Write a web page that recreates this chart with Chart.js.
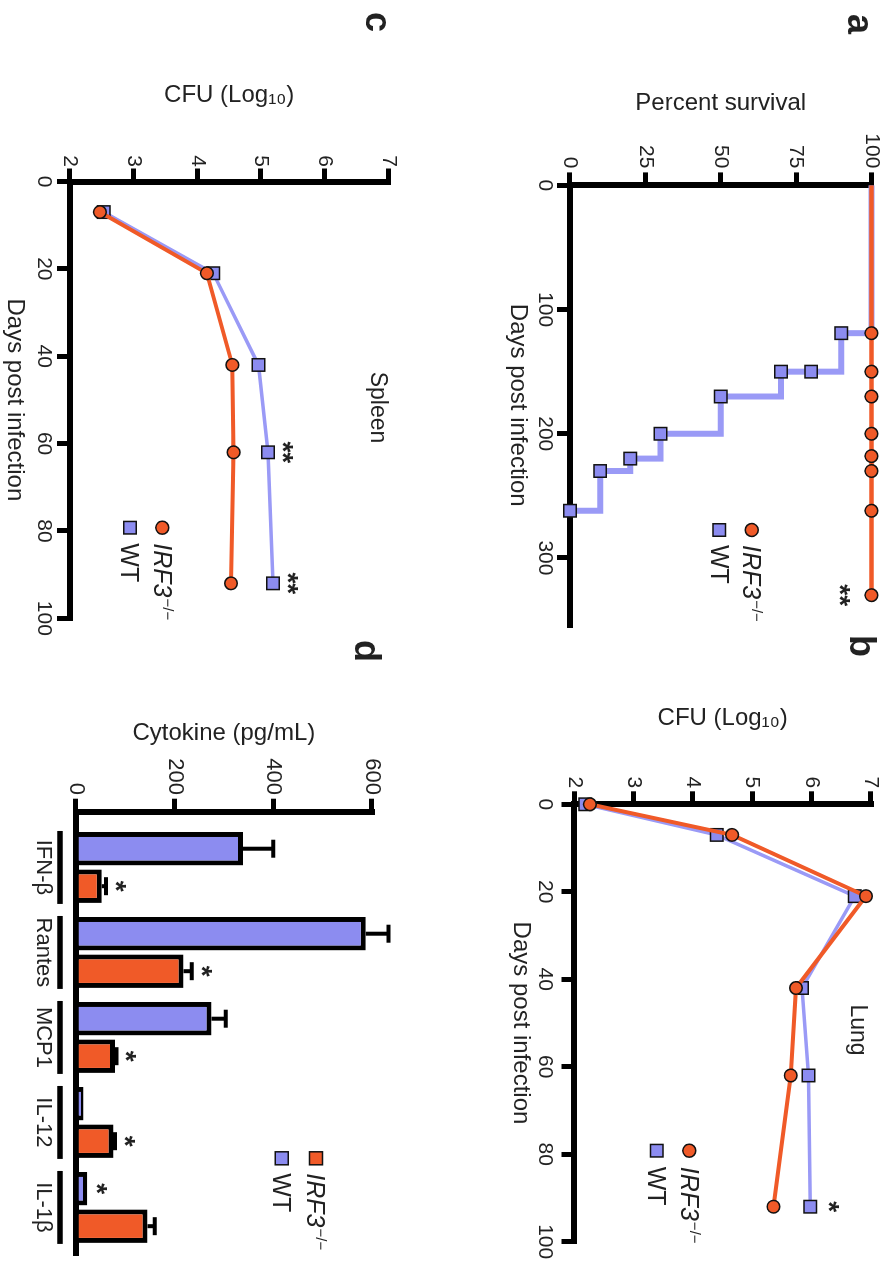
<!DOCTYPE html>
<html>
<head>
<meta charset="utf-8">
<title>IRF3 infection panels</title>
<script src="https://cdn.jsdelivr.net/npm/chart.js@4.4.1/dist/chart.umd.min.js"></script>
<style>
  html, body { margin: 0; padding: 0; background: #fff; }
  body { width: 888px; height: 1266px; overflow: hidden; position: relative; }
  /* the figure is laid out upright, then turned a quarter clockwise like the source */
  #figure { position: absolute; left: 0; top: 0; width: 1266px; height: 888px;
            transform-origin: 0 0; transform: translate(888px, 0) rotate(90deg); }
  #figure canvas { position: absolute; }
</style>
</head>
<body>
<div id="figure">
  <canvas id="survival" width="660" height="444" style="left:0;top:0"></canvas>
  <canvas id="lung" width="633" height="444" style="left:633px;top:0"></canvas>
  <canvas id="spleen" width="660" height="444" style="left:0;top:444px"></canvas>
  <canvas id="cytokine" width="633" height="444" style="left:633px;top:444px"></canvas>
</div>
<script>
const FONT = "'Liberation Sans', Arial, Helvetica, sans-serif";
const INK = '#222';
const ORANGE = '#f05a28';
const PURPLE = '#8c8cf0';
const PURPLE_LINE = '#9a9af6';

// --- a: survival ---
const survDaysKO = [0, 119, 150, 170, 200, 218, 230, 262, 330];
const survKO     = [100, 100, 100, 100, 100, 100, 100, 100, 100];
const survStars  = ['', '', '', '', '', '', '', '', '**'];
const survDaysWT = [0, 119, 150, 150, 170, 200, 220, 230, 262];
const survWT     = [100, 90, 80, 70, 50, 30, 20, 10, 0];
const survDayTicks = [0, 100, 200, 300];
const survPctTicks = [0, 25, 50, 75, 100];

// --- b: lung CFU ---
const lungDays  = [0, 7, 21, 42, 62, 92];
const lungKO    = [2.26, 4.66, 6.92, 5.74, 5.65, 5.36];
const lungWT    = [2.18, 4.40, 6.73, 5.84, 5.95, 5.98];
const lungStars = ['', '', '', '', '', '*'];

// --- c: spleen CFU ---
const spleenDays  = [7, 21, 42, 62, 92];
const spleenKO    = [2.47, 4.15, 4.55, 4.57, 4.53];
const spleenWT    = [2.53, 4.25, 4.96, 5.11, 5.19];
const spleenStars = ['', '', '', '**', '**'];

const cfuTicks = [2, 3, 4, 5, 6, 7];
const dayTicks = [0, 20, 40, 60, 80, 100];

// --- d: cytokines ---
const cytokines   = ['IFN-β', 'Rantes', 'MCP1', 'IL-12', 'IL-1β'];
const cytoWT      = [339, 588, 275, 15, 23];
const cytoWTErr   = [61, 46, 29, 0, 0];
const cytoWTStars = ['', '', '', '', '*'];
const cytoKO      = [52, 218, 79, 76, 145];
const cytoKOErr   = [9, 17, 3, 3, 15];
const cytoKOStars = ['*', '*', '*', '*', ''];
const cytoTicks   = [0, 200, 400, 600];

const pairs = (xs, ys) => xs.map((x, i) => ({ x, y: ys[i] }));

// --- shared bits ---
function baseOptions(pad) {
  return {
    responsive: false,
    animation: false,
    events: [],
    layout: { padding: pad },
    plugins: { legend: { display: false }, tooltip: { enabled: false } },
  };
}

// Prism-like axis: thick line, outward ticks, fixed box size so the plot area lands where it should
function axis(cfg) {
  return {
    type: 'linear',
    min: cfg.min,
    max: cfg.max,
    offset: false,
    border: { display: true, width: 6, color: '#000' },
    grid: { drawOnChartArea: false, offset: false, drawTicks: cfg.tickMarks !== false, tickLength: 13,
            tickWidth: 5, tickColor: '#000', color: '#000', lineWidth: 5 },
    ticks: { color: INK, padding: cfg.pad, autoSkip: false, maxRotation: 0, minRotation: 0,
             font: { family: FONT, size: cfg.font || 21 }, callback: cfg.label || (v => String(v)) },
    title: { display: !!cfg.title, text: cfg.title || '', color: INK, padding: 0,
             font: { family: FONT, size: 24 } },
    afterBuildTicks: s => { s.ticks = cfg.values.map(v => ({ value: v })); },
    afterFit: s => { if (s.isHorizontal()) s.height = cfg.size; else s.width = cfg.size; },
  };
}

function koSeries(data, extra) {
  return Object.assign({
    label: 'IRF3-/-', data, borderColor: ORANGE, borderWidth: 4, tension: 0,
    pointStyle: 'circle', pointRadius: 6.3, pointBackgroundColor: ORANGE,
    pointBorderColor: '#111', pointBorderWidth: 1.5, clip: false,
  }, extra || {});
}

function wtSeries(data, extra) {
  return Object.assign({
    label: 'WT', data, borderColor: PURPLE_LINE, borderWidth: 3.5, tension: 0,
    pointStyle: 'rect', pointRadius: 8.8, pointBackgroundColor: PURPLE,
    pointBorderColor: '#111', pointBorderWidth: 1.5, clip: false,
  }, extra || {});
}

function extras(draw) {
  return { id: 'extras', afterDraw(chart) { const ctx = chart.ctx; ctx.save(); draw(chart, ctx); ctx.restore(); } };
}

function panelLetter(ctx, t, x, y) {
  ctx.font = `bold 36px ${FONT}`;
  ctx.fillStyle = INK;
  ctx.textAlign = 'left';
  ctx.textBaseline = 'alphabetic';
  ctx.fillText(t, x, y);
}

function plainText(ctx, t, x, y, size) {
  ctx.font = `${size}px ${FONT}`;
  ctx.fillStyle = INK;
  ctx.textAlign = 'center';
  ctx.textBaseline = 'alphabetic';
  ctx.fillText(t, x, y);
}

// asterisk glyph sits high in the em box, so shift the baseline to centre it on cy
function drawStar(ctx, t, x, cy) {
  const size = 28;
  ctx.font = `bold ${size}px ${FONT}`;
  ctx.fillStyle = INK;
  ctx.textAlign = 'center';
  ctx.textBaseline = 'alphabetic';
  ctx.fillText(t, x, cy + size * 0.575);
}

function marker(ctx, shape, x, y, color, size) {
  ctx.fillStyle = color;
  ctx.strokeStyle = '#111';
  ctx.lineWidth = 1.5;
  ctx.beginPath();
  if (shape === 'circle') ctx.arc(x, y, size / 2, 0, Math.PI * 2);
  else ctx.rect(x - size / 2, y - size / 2, size, size);
  ctx.fill();
  ctx.stroke();
}

function koText(ctx, x, y) {
  ctx.fillStyle = INK;
  ctx.textAlign = 'left';
  ctx.textBaseline = 'alphabetic';
  ctx.font = `italic 25px ${FONT}`;
  ctx.fillText('IRF3', x, y);
  const w = ctx.measureText('IRF3').width;
  ctx.font = `15px ${FONT}`;
  ctx.fillText('\u2212/\u2212', x + w + 1, y - 9);
}

// rows: [{shape, color, y, ko}]
function legend(ctx, mx, tx, rows, size) {
  rows.forEach(r => {
    const s = size || (r.shape === 'circle' ? 13 : 12.5);
    marker(ctx, r.shape, mx, r.y, r.color, s);
    if (r.ko) koText(ctx, tx, r.y + 8.5);
    else {
      ctx.fillStyle = INK;
      ctx.textAlign = 'left';
      ctx.font = `25px ${FONT}`;
      ctx.fillText('WT', tx, r.y + 8.5);
    }
  });
}

function pointStars(chart, datasetIndex, marks, dy) {
  const pts = chart.getDatasetMeta(datasetIndex).data;
  marks.forEach((m, i) => { if (m) drawStar(chart.ctx, m, pts[i].x, pts[i].y + dy); });
}

// --- a ---
new Chart(document.getElementById('survival'), {
  type: 'line',
  data: {
    datasets: [
      koSeries(pairs(survDaysKO, survKO), { borderWidth: 4.5, pointRadius: c => (c.dataIndex === 0 ? 0 : 6.3) }),
      wtSeries(pairs(survDaysWT, survWT), { stepped: 'before', borderWidth: 6,
        borderJoinStyle: 'miter', pointRadius: c => (c.dataIndex === 0 ? 0 : 8.8) }),
    ],
  },
  options: Object.assign(baseOptions({ left: 88.6, right: 35, top: 16, bottom: 59.6 }), {
    scales: {
      x: axis({ min: 0, max: 354, values: survDayTicks, pad: 0, size: 66.4, title: 'Days post infection' }),
      y: axis({ min: 0, max: 100, values: survPctTicks, pad: 4, size: 96.8, title: 'Percent survival' }),
    },
  }),
  plugins: [extras((chart, ctx) => {
    panelLetter(ctx, 'a', 14, 40);
    legend(ctx, 530, 545, [
      { shape: 'circle', color: ORANGE, y: 136.3, ko: true },
      { shape: 'rect', color: PURPLE, y: 168.7 },
    ]);
    pointStars(chart, 0, survStars, 24);
  })],
});

// --- b ---
new Chart(document.getElementById('lung'), {
  type: 'line',
  data: {
    datasets: [
      koSeries(pairs(lungDays, lungKO)),
      wtSeries(pairs(lungDays, lungWT)),
    ],
  },
  options: Object.assign(baseOptions({ left: 70.6, right: 24.3, top: 17.3, bottom: 62.3 }), {
    scales: {
      x: axis({ min: 0, max: 100, values: dayTicks, pad: 4, size: 68.2, title: 'Days post infection' }),
      y: axis({ min: 2, max: 7, values: cfuTicks, pad: 3, size: 100.7, title: 'CFU (Log\u2081\u2080)' }),
    },
  }),
  plugins: [extras((chart, ctx) => {
    panelLetter(ctx, 'b', 2, 38);
    plainText(ctx, 'Lung', 397, 36.5, 23);
    legend(ctx, 517.7, 533.7, [
      { shape: 'circle', color: ORANGE, y: 198.7, ko: true },
      { shape: 'rect', color: PURPLE, y: 231.3 },
    ]);
    pointStars(chart, 1, lungStars, -26);
  })],
});

// --- c ---
new Chart(document.getElementById('spleen'), {
  type: 'line',
  data: {
    datasets: [
      koSeries(pairs(spleenDays, spleenKO)),
      wtSeries(pairs(spleenDays, spleenWT)),
    ],
  },
  options: Object.assign(baseOptions({ left: 80.6, right: 41.7, top: 55.7, bottom: 0.6 }), {
    scales: {
      x: axis({ min: 0, max: 100, values: dayTicks, pad: 1, size: 69.4, title: 'Days post infection' }),
      y: axis({ min: 2, max: 7, values: cfuTicks, pad: 1.5, size: 100.9, title: 'CFU (Log\u2081\u2080)' }),
    },
  }),
  plugins: [extras((chart, ctx) => {
    panelLetter(ctx, 'c', 12, 78);
    plainText(ctx, 'Spleen', 407.5, 72.5, 23);
    legend(ctx, 527.7, 543.3, [
      { shape: 'circle', color: ORANGE, y: 281.7, ko: true },
      { shape: 'rect', color: PURPLE, y: 314 },
    ]);
    pointStars(chart, 1, spleenStars, -22);
  })],
});

// --- d ---
const barStyle = { borderColor: '#000', borderWidth: 5, borderSkipped: 'start',
                   categoryPercentage: 0.882, barPercentage: 0.893 };
new Chart(document.getElementById('cytokine'), {
  type: 'bar',
  data: {
    datasets: [
      Object.assign({ label: 'WT', data: cytoWT.map((v, i) => ({ x: i, y: v })), backgroundColor: PURPLE }, barStyle),
      Object.assign({ label: 'IRF3-/-', data: cytoKO.map((v, i) => ({ x: i, y: v })), backgroundColor: ORANGE }, barStyle),
    ],
  },
  options: Object.assign(baseOptions({ left: 85.9, right: 13, top: 72.3, bottom: 0 }), {
    scales: {
      x: axis({ min: -0.656, max: 4.536, values: cytokines.map((c, i) => i), pad: 19.5, size: 76,
                font: 22, tickMarks: false, label: v => cytokines[v] }),
      y: axis({ min: 0, max: 600, values: cytoTicks, pad: 3.7, size: 92.8, font: 22, title: 'Cytokine (pg/mL)' }),
    },
  }),
  plugins: [extras((chart, ctx) => {
    const y = chart.scales.y;
    [[0, cytoWT, cytoWTErr, cytoWTStars], [1, cytoKO, cytoKOErr, cytoKOStars]].forEach(([di, vals, errs, marks]) => {
      chart.getDatasetMeta(di).data.forEach((bar, i) => {
        const top = y.getPixelForValue(vals[i] + errs[i]);
        if (errs[i] > 0) {
          ctx.strokeStyle = '#000';
          ctx.lineWidth = 4;
          ctx.beginPath();
          ctx.moveTo(bar.x, y.getPixelForValue(vals[i]));
          ctx.lineTo(bar.x, top);
          ctx.moveTo(bar.x - 9, top);
          ctx.lineTo(bar.x + 9, top);
          ctx.stroke();
        }
        if (marks[i]) drawStar(ctx, marks[i], bar.x, top - 17);
      });
    });
    // group brackets above the category names
    const wt = chart.getDatasetMeta(0).data;
    const ko = chart.getDatasetMeta(1).data;
    ctx.strokeStyle = '#000';
    ctx.lineWidth = 5.5;
    cytokines.forEach((c, i) => {
      ctx.beginPath();
      ctx.moveTo(wt[i].x - wt[i].width / 2 - 1, 384);
      ctx.lineTo(ko[i].x + ko[i].width / 2 + 1, 384);
      ctx.stroke();
    });
    panelLetter(ctx, 'd', 7, 89);
    legend(ctx, 525.3, 540.3, [
      { shape: 'rect', color: ORANGE, y: 128, ko: true },
      { shape: 'rect', color: PURPLE, y: 162.3 },
    ], 13);
  })],
});
</script>
</body>
</html>
